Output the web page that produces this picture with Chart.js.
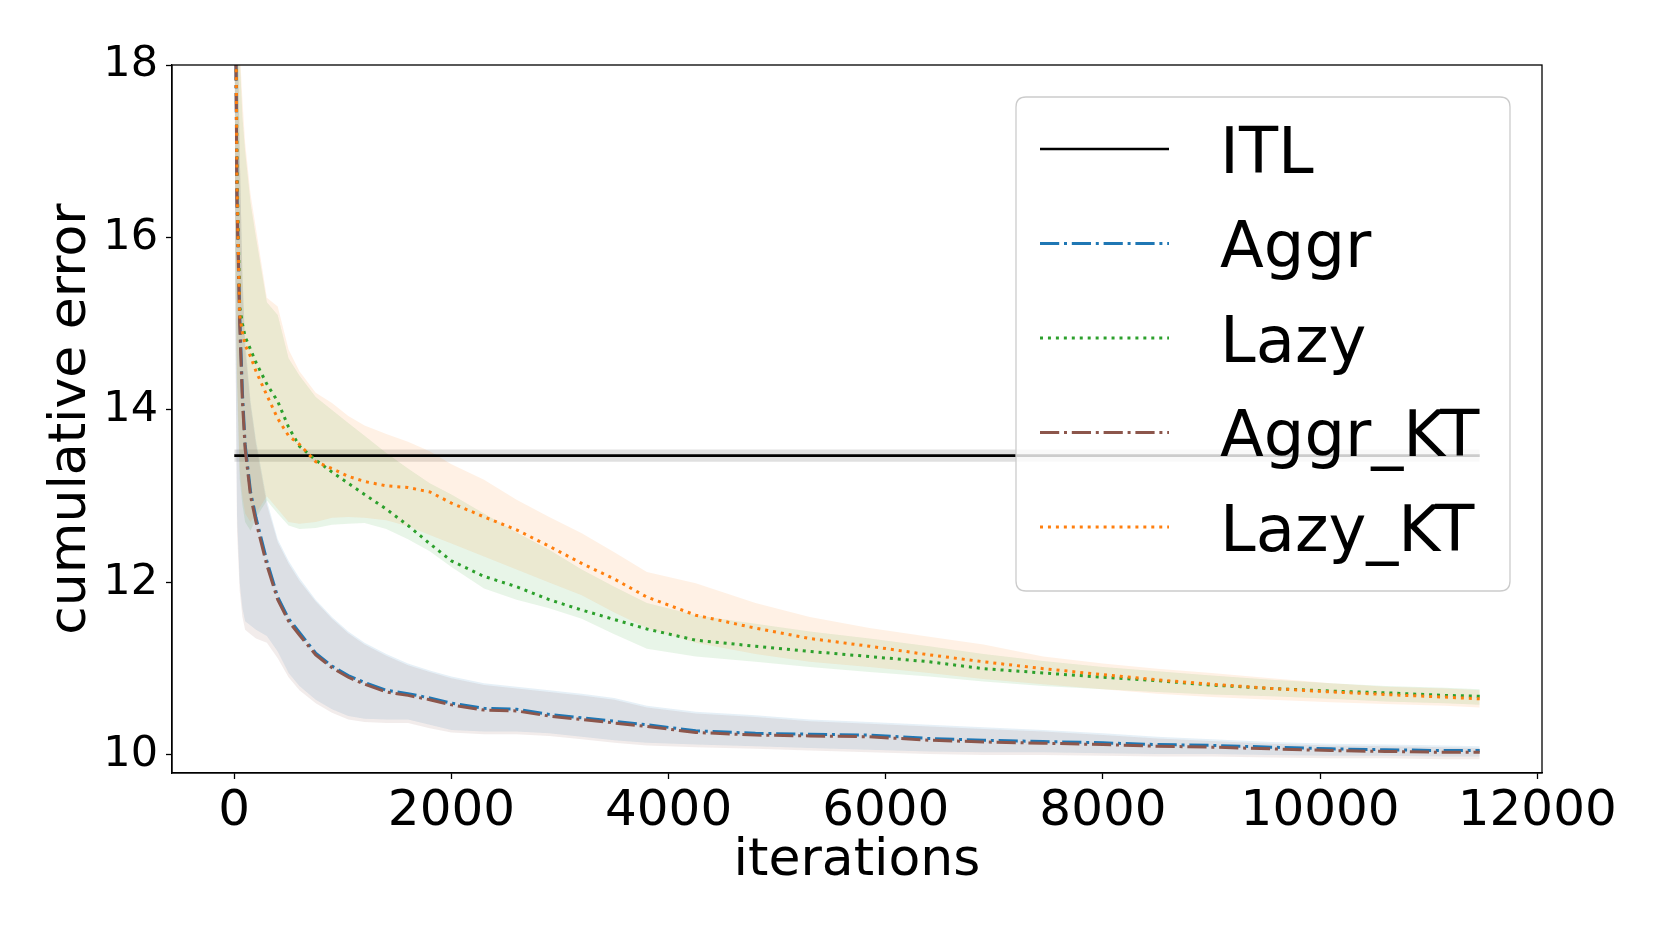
<!DOCTYPE html>
<html><head><meta charset="utf-8">
<script src="https://cdn.jsdelivr.net/npm/chart.js@4.4.0/dist/chart.umd.min.js"></script>
<style>html,body{margin:0;padding:0;background:#fff;}canvas{display:block;}</style>
</head><body>
<canvas id="c" width="1664" height="936" style="width:1664px;height:936px"></canvas>
<script>
// ---------------- data ----------------
const iterations = [0,10,25,50,75,100, 150,200,300,400,500,600, 750,900,1050,1200,1400,1600,
  1800,2000,2300,2600,2900,3200, 3500,3800,4250,4800,5300,5850, 6400,6900,7450,8000,8500,9000,
  9550,10100,10600,11150,11470];

const aggr = [28,19,16.5,15.1,14.2,13.6, 13.05,12.75,12.25,11.83,11.58,11.42, 11.18,11.03,10.92,10.84,10.75,10.71,
  10.66,10.60,10.54,10.53,10.47,10.43, 10.39,10.35,10.28,10.25,10.24,10.23, 10.19,10.17,10.155,10.14,10.12,10.11,
  10.09,10.07,10.06,10.05,10.05];
const aggrKT = [28,19,16.4,15.0,14.1,13.55, 13.0,12.7,12.2,11.8,11.55,11.39, 11.16,11.01,10.9,10.82,10.73,10.69,
  10.64,10.58,10.52,10.51,10.45,10.41, 10.37,10.33,10.26,10.23,10.22,10.21, 10.17,10.15,10.135,10.12,10.10,10.09,
  10.07,10.05,10.04,10.03,10.03];
const lazy = [28,19.5,16.8,15.2,15.0,14.85, 14.7,14.55,14.3,14.1,13.8,13.58, 13.42,13.28,13.15,13.02,12.85,12.66,
  12.45,12.25,12.07,11.95,11.80,11.68, 11.57,11.46,11.33,11.26,11.20,11.14, 11.08,11.00,10.95,10.90,10.86,10.81,
  10.77,10.74,10.72,10.69,10.68];
const lazyKT = [28,19.5,16.6,15.1,14.9,14.75, 14.62,14.45,14.17,13.9,13.7,13.6, 13.40,13.32,13.23,13.17,13.12,13.10,
  13.05,12.92,12.76,12.61,12.42,12.22, 12.04,11.83,11.62,11.47,11.35,11.26, 11.16,11.08,11.00,10.93,10.87,10.82,
  10.77,10.73,10.70,10.67,10.65];

const aggrHi = [30,23,19,17,15.6,14.8, 14.1,13.65,12.95,12.5,12.25,12.05, 11.8,11.6,11.43,11.3,11.17,11.06,
  10.98,10.91,10.83,10.79,10.75,10.71, 10.66,10.57,10.50,10.46,10.41,10.38, 10.35,10.32,10.29,10.25,10.21,10.18,
  10.15,10.13,10.12,10.11,10.10];
const aggrLo = [20,15,12.8,12.0,11.7,11.55, 11.5,11.45,11.38,11.2,10.95,10.8, 10.64,10.53,10.45,10.42,10.41,10.41,
  10.35,10.29,10.27,10.27,10.25,10.21, 10.17,10.14,10.12,10.10,10.08,10.06, 10.04,10.03,10.03,10.02,10.01,10.01,
  10.00,9.99,9.99,9.98,9.98];
const aggrKTHi = [30,23,19,17,15.5,14.7, 14.05,13.6,12.9,12.47,12.22,12.02, 11.78,11.58,11.41,11.28,11.15,11.04,
  10.96,10.89,10.81,10.77,10.73,10.69, 10.64,10.55,10.48,10.44,10.39,10.36, 10.33,10.30,10.27,10.23,10.19,10.16,
  10.13,10.11,10.10,10.09,10.08];
const aggrKTLo = [20,15,12.6,11.9,11.6,11.45, 11.4,11.35,11.3,11.12,10.9,10.75, 10.6,10.49,10.41,10.38,10.37,10.37,
  10.31,10.26,10.24,10.24,10.22,10.18, 10.14,10.11,10.09,10.07,10.05,10.03, 10.01,10.00,10.00,9.99,9.98,9.98,
  9.97,9.96,9.96,9.95,9.95];
const lazyHi = [30,24,19.5,18.1,17.4,17.0, 16.4,16.0,15.25,15.1,14.6,14.4, 14.15,14.0,13.85,13.7,13.5,13.32,
  13.15,13.02,12.8,12.58,12.38,12.15, 11.95,11.76,11.62,11.52,11.43,11.35, 11.26,11.17,11.09,11.02,10.97,10.92,
  10.87,10.83,10.80,10.78,10.76];
const lazyLo = [20,15.5,14.3,13.2,12.9,12.7, 12.6,12.75,12.95,12.8,12.66,12.62, 12.63,12.67,12.68,12.69,12.62,12.5,
  12.36,12.18,11.93,11.80,11.70,11.58, 11.40,11.23,11.14,11.08,11.02,10.96, 10.91,10.85,10.80,10.76,10.73,10.70,
  10.68,10.65,10.62,10.60,10.58];
const lazyKTHi = [30,24,19.6,18.2,17.6,17.1, 16.5,16.1,15.3,15.2,14.7,14.45, 14.2,14.08,13.93,13.82,13.72,13.63,
  13.52,13.37,13.19,12.96,12.76,12.57, 12.35,12.12,11.99,11.76,11.60,11.47, 11.37,11.28,11.14,11.06,11.0,10.95,
  10.89,10.83,10.79,10.77,10.75];
const lazyKTLo = [20,15.8,14.5,13.3,13.0,12.8, 12.7,12.8,13.0,12.85,12.7,12.68, 12.7,12.75,12.76,12.75,12.72,12.65,
  12.55,12.45,12.3,12.15,12.0,11.85, 11.65,11.47,11.30,11.17,11.08,11.02, 10.95,10.88,10.82,10.76,10.71,10.67,
  10.64,10.61,10.59,10.57,10.55];

const itlX = [0, 11470];
const itl = [13.47, 13.47];
const itlHi = [13.54, 13.54];
const itlLo = [13.40, 13.40];

const seriesNames = ['ITL', 'Aggr', 'Lazy', 'Aggr_KT', 'Lazy_KT'];
const xTicks = [0, 2000, 4000, 6000, 8000, 10000, 12000];
const yTicks = [10, 12, 14, 16, 18];

// ---------------- styling ----------------
const FONT = "'DejaVu Sans', sans-serif";
const col = {ITL:'#000000', Aggr:'#1f77b4', Lazy:'#2ca02c', Aggr_KT:'#8c564b', Lazy_KT:'#ff7f0e'};
const band = {ITL:'rgba(0,0,0,0.12)', Aggr:'rgba(31,119,180,0.11)', Lazy:'rgba(44,160,44,0.11)',
              Aggr_KT:'rgba(140,86,75,0.11)', Lazy_KT:'rgba(255,127,14,0.11)'};
const LW = 3;
const dashDot = [6.4*LW, 1.6*LW, 1*LW, 1.6*LW];
const dotted = [1*LW, 1.65*LW];

function pts(ys, xs) { xs = xs || iterations; return xs.map((x, i) => ({x: x, y: ys[i]})); }

function lineDs(name, ys, xs, dash, order, lw) {
  return {label: name, data: pts(ys, xs), borderColor: col[name], borderWidth: lw || LW,
    borderDash: dash, borderCapStyle: 'butt', pointRadius: 0, tension: 0, fill: false, order: order};
}
function bandDs(name, hi, lo, xs, order) {
  return [
    {label: '_' + name + '_hi', data: pts(hi, xs), borderWidth: 0, pointRadius: 0, tension: 0,
     fill: '+1', backgroundColor: band[name], order: order},
    {label: '_' + name + '_lo', data: pts(lo, xs), borderWidth: 0, pointRadius: 0, tension: 0,
     fill: false, order: order}
  ];
}

const datasets = [
  lineDs('ITL', itl, itlX, [], 4, 2.6),
  lineDs('Aggr', aggr, null, dashDot, 3),
  lineDs('Lazy', lazy, null, dotted, 2),
  lineDs('Aggr_KT', aggrKT, null, dashDot, 1),
  lineDs('Lazy_KT', lazyKT, null, dotted, 0),
  ...bandDs('ITL', itlHi, itlLo, itlX, 14),
  ...bandDs('Aggr', aggrHi, aggrLo, null, 13),
  ...bandDs('Lazy', lazyHi, lazyLo, null, 12),
  ...bandDs('Aggr_KT', aggrKTHi, aggrKTLo, null, 11),
  ...bandDs('Lazy_KT', lazyKTHi, lazyKTLo, null, 10)
];

// frame (top/right spines)
const framePlugin = {
  id: 'frame',
  afterDatasetsDraw(chart) {
    const a = chart.chartArea, ctx = chart.ctx;
    ctx.save(); ctx.strokeStyle = '#000'; ctx.lineWidth = 1.3;
    ctx.strokeRect(a.left, a.top, a.right - a.left, a.bottom - a.top);
    ctx.restore();
  }
};

// matplotlib-like legend inside the axes
const legendPlugin = {
  id: 'mplLegend',
  afterDraw(chart) {
    const ctx = chart.ctx;
    const bx = 1016, by = 97, bw = 494, bh = 494, r = 10;
    ctx.save();
    ctx.beginPath();
    ctx.moveTo(bx + r, by); ctx.lineTo(bx + bw - r, by); ctx.quadraticCurveTo(bx + bw, by, bx + bw, by + r);
    ctx.lineTo(bx + bw, by + bh - r); ctx.quadraticCurveTo(bx + bw, by + bh, bx + bw - r, by + bh);
    ctx.lineTo(bx + r, by + bh); ctx.quadraticCurveTo(bx, by + bh, bx, by + bh - r);
    ctx.lineTo(bx, by + r); ctx.quadraticCurveTo(bx, by, bx + r, by);
    ctx.closePath();
    ctx.fillStyle = 'rgba(255,255,255,0.8)'; ctx.fill();
    ctx.strokeStyle = '#cccccc'; ctx.lineWidth = 1.3; ctx.stroke();
    seriesNames.forEach((name, i) => {
      const ds = chart.data.datasets.find(d => d.label === name);
      const y = 149 + i * 94.5;
      ctx.beginPath();
      ctx.setLineDash(ds.borderDash || []);
      ctx.lineCap = 'butt';
      ctx.strokeStyle = ds.borderColor; ctx.lineWidth = ds.borderWidth;
      ctx.moveTo(1040, y); ctx.lineTo(1169, y); ctx.stroke();
      ctx.setLineDash([]);
      ctx.fillStyle = '#000'; ctx.font = '64px ' + FONT;
      ctx.textAlign = 'left'; ctx.textBaseline = 'alphabetic';
      ctx.fillText(name, 1220, y + 23.5);
    });
    ctx.restore();
  }
};

new Chart(document.getElementById('c'), {
  type: 'line',
  data: {datasets: datasets},
  options: {
    responsive: false, animation: false, devicePixelRatio: 1,
    layout: {padding: {top: 65, right: 122, bottom: 0, left: 0}},
    plugins: {legend: {display: false}, tooltip: {enabled: false}, filler: {propagate: false}},
    scales: {
      x: {
        type: 'linear', min: -573.5, max: 12043.5,
        afterBuildTicks: s => { s.ticks = xTicks.map(v => ({value: v})); },
        afterFit: s => { s.height = 163; },
        grid: {display: true, drawOnChartArea: false, drawTicks: true, tickLength: 6, tickColor: '#000', tickWidth: 1.3},
        border: {display: true, color: '#000', width: 1.3},
        ticks: {color: '#000', font: {family: FONT, size: 50}, padding: 3, maxRotation: 0, autoSkip: false,
                callback: v => String(v)},
        title: {display: true, text: 'iterations', color: '#000', font: {family: FONT, size: 52},
                padding: {top: 0, bottom: 43}}
      },
      y: {
        min: 9.79, max: 18,
        afterBuildTicks: s => { s.ticks = yTicks.map(v => ({value: v})); },
        afterFit: s => { s.width = 172; },
        grid: {display: true, drawOnChartArea: false, drawTicks: true, tickLength: 6, tickColor: '#000', tickWidth: 1.3},
        border: {display: true, color: '#000', width: 1.3},
        ticks: {color: '#000', font: {family: FONT, size: 43}, padding: 8, callback: v => String(v)},
        title: {display: true, text: 'cumulative error', color: '#000', font: {family: FONT, size: 52},
                padding: {top: 40, bottom: 0}}
      }
    }
  },
  plugins: [framePlugin, legendPlugin]
});
</script>
</body></html>
